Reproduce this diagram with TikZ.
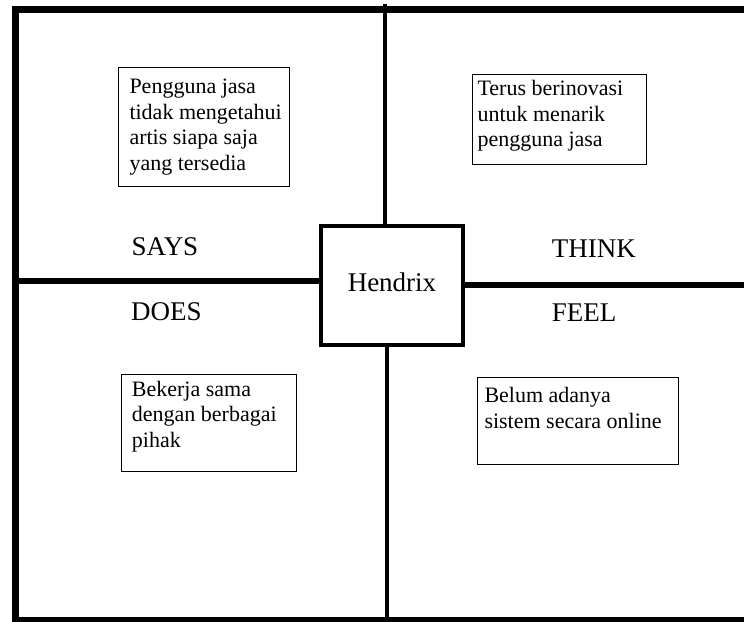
\documentclass[tikz,border=0pt]{standalone}
\usepackage{fontspec}
\setmainfont{Liberation Serif}
\begin{document}
\begin{tikzpicture}[x=1pt,y=-1pt,
    frame/.style={line width=7pt},
    divider/.style={line width=4.5pt},
    note/.style={line width=1pt},
    notetext/.style={anchor=base west,inner sep=0pt,align=left,font=\fontsize{22pt}{25.5pt}\selectfont},
    quad/.style={anchor=base west,inner sep=0pt,font=\fontsize{27pt}{30pt}\selectfont},
    hub/.style={draw,line width=4pt,minimum width=142pt,minimum height=119pt,inner sep=0pt,
      text height=12.4pt,text depth=0pt,font=\fontsize{27pt}{30pt}\selectfont}]
  \useasboundingbox (0,0) rectangle (744,621);
  \draw[frame] (744,9.5) -- (15.5,9.5) -- (15.5,620.5) -- (744,620.5);
  \node[hub] (hendrix) at (392,285.5) {Hendrix};
  \coordinate (ntop) at (385.2,4);
  \coordinate (sbot) at (387,624);
  \coordinate (wend) at (15.5,281);
  \coordinate (eend) at (744,285);
  \draw[divider] (ntop) -- (ntop |- hendrix.north);
  \draw[divider] (hendrix.south -| sbot) -- (sbot);
  \draw[divider,line width=5.5pt] (wend) -- (wend -| hendrix.west);
  \draw[divider,line width=5.5pt] (hendrix.east |- eend) -- (eend);
  % quadrant labels
  \node[quad] (says) at (131.5,255.7) {SAYS};
  \node[quad] (think) at (551.7,257.7) {THINK};
  \node[quad] (does) at (131,320) {DOES};
  \node[quad] (feel) at (551.7,321.7) {FEEL};
  % notes (text anchored at the last line)
  \draw[note] (118.3,67.7) rectangle (289,186);
  \node[notetext] (saysnote) at (129.3,170) {Pengguna jasa\\tidak mengetahui\\artis siapa saja\\yang tersedia};
  \draw[note] (472.7,74) rectangle (646.7,164.3);
  \node[notetext] (thinknote) at (477.3,146.7) {Terus berinovasi\\untuk menarik\\pengguna jasa};
  \draw[note] (121.7,374) rectangle (296.5,471);
  \node[notetext] (doesnote) at (131.7,447.3) {Bekerja sama\\dengan berbagai\\pihak};
  \draw[note] (477.7,377) rectangle (678,464.3);
  \node[notetext] (feelnote) at (484.3,428.3) {Belum adanya\\sistem secara online};
\end{tikzpicture}
\end{document}
